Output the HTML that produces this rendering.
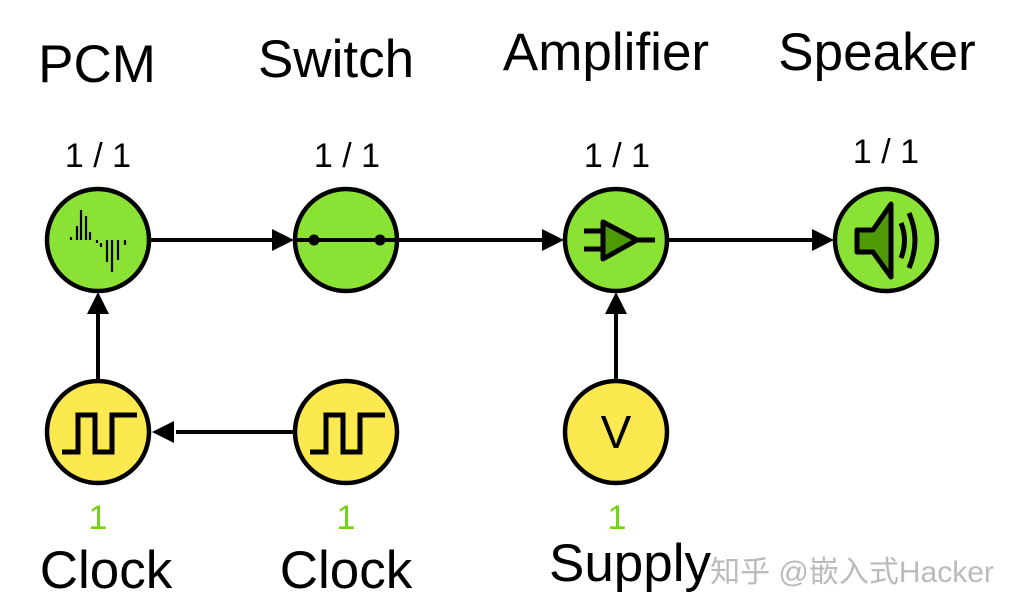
<!DOCTYPE html>
<html><head><meta charset="utf-8"><style>
html,body{margin:0;padding:0;background:#fff;}
svg{display:block}
text{font-family:"Liberation Sans","Noto Sans CJK SC",sans-serif;}
</style></head><body>
<svg width="1026" height="616" viewBox="0 0 1026 616">
<g font-size="53" fill="#000" text-anchor="middle">
<text x="97" y="82">PCM</text>
<text x="336" y="77">Switch</text>
<text x="606" y="70">Amplifier</text>
<text x="877" y="70">Speaker</text>
<text x="106" y="588">Clock</text>
<text x="346" y="588">Clock</text>
<text x="630" y="581">Supply</text>
</g>
<g font-size="34" fill="#000" text-anchor="middle">
<text x="98" y="167">1 / 1</text>
<text x="347" y="167">1 / 1</text>
<text x="617" y="167">1 / 1</text>
<text x="886" y="163">1 / 1</text>
</g>
<g font-size="34" fill="#73d216" text-anchor="middle">
<text x="98" y="529">1</text>
<text x="346" y="529">1</text>
<text x="617" y="529">1</text>
</g>
<text x="852" y="582" font-size="30" fill="#bbb" text-anchor="middle">知乎 @嵌入式Hacker</text>
<g stroke="#000" stroke-width="4" fill="none">
<line x1="150" y1="240" x2="272" y2="240"/>
<line x1="398" y1="240" x2="542" y2="240"/>
<line x1="668" y1="240" x2="812" y2="240"/>
<line x1="98" y1="380" x2="98" y2="312"/>
<line x1="294" y1="432" x2="176" y2="432"/>
<line x1="616" y1="380" x2="616" y2="312"/>
</g>
<g fill="#000">
<polygon points="294,240 272,229 272,251"/>
<polygon points="564,240 542,229 542,251"/>
<polygon points="834,240 812,229 812,251"/>
<polygon points="98,292 87,314 109,314"/>
<polygon points="152,432 174,421 174,443"/>
<polygon points="616,292 605,314 627,314"/>
</g>
<g stroke="#000" stroke-width="4.5">
<circle cx="98" cy="240" r="51" fill="#8ae234"/>
<circle cx="346" cy="240" r="51" fill="#8ae234"/>
<circle cx="616" cy="240" r="51" fill="#8ae234"/>
<circle cx="886" cy="240" r="51" fill="#8ae234"/>
<circle cx="98" cy="432" r="51" fill="#fce94f"/>
<circle cx="346" cy="432" r="51" fill="#fce94f"/>
<circle cx="616" cy="432" r="51" fill="#fce94f"/>
</g>
<g stroke="#000" stroke-width="2.2">
<line x1="71" y1="237" x2="71" y2="240"/>
<line x1="77" y1="226" x2="77" y2="240"/>
<line x1="81" y1="210" x2="81" y2="240"/>
<line x1="86" y1="216" x2="86" y2="240"/>
<line x1="90" y1="232" x2="90" y2="240"/>
<line x1="97" y1="240" x2="97" y2="243"/>
<line x1="101" y1="243" x2="101" y2="247"/>
<line x1="107" y1="240" x2="107" y2="262"/>
<line x1="112" y1="240" x2="112" y2="272"/>
<line x1="118" y1="240" x2="118" y2="260"/>
<line x1="125" y1="240" x2="125" y2="245"/>
</g>
<line x1="296" y1="240" x2="396" y2="240" stroke="#000" stroke-width="4"/>
<circle cx="314" cy="240" r="5.5" fill="#000"/>
<circle cx="380" cy="240" r="5.5" fill="#000"/>
<g stroke="#000" stroke-width="5" fill="none">
<line x1="584" y1="231" x2="603" y2="231"/>
<line x1="584" y1="249" x2="603" y2="249"/>
<line x1="636" y1="240" x2="655" y2="240"/>
</g>
<polygon points="603,222 603,259 637,240" fill="#4e9a06" stroke="#000" stroke-width="5" stroke-linejoin="round"/>
<polygon points="857,230 873,230 891,204 891,277 873,252 857,252" fill="#4e9a06" stroke="#000" stroke-width="5" stroke-linejoin="round"/>
<path d="M901,223 Q908,240 901,258" stroke="#000" stroke-width="5" fill="none"/>
<path d="M909,213 Q921,240 909,268" stroke="#000" stroke-width="5" fill="none"/>
<g stroke="#000" stroke-width="5" fill="none">
<polyline points="62,452 78,452 78,415 95,415 95,452 112,452 112,415 137,415"/>
<polyline points="310,452 326,452 326,415 343,415 343,452 360,452 360,415 385,415"/>
</g>
<text x="616" y="448" font-size="46" text-anchor="middle" fill="#000">V</text>
</svg>
</body></html>
